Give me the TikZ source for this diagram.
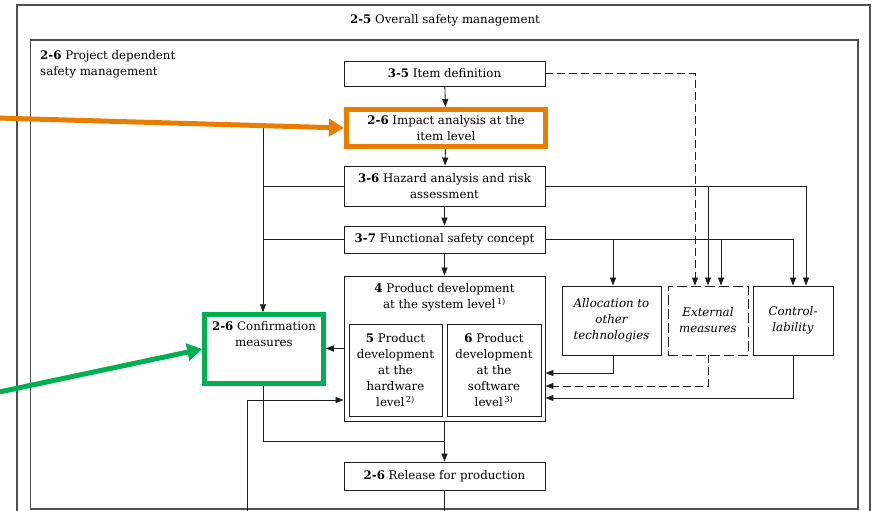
\documentclass[tikz,border=0pt]{standalone}
\usepackage{fontspec}
\setmainfont{DejaVu Serif}
\usetikzlibrary{arrows.meta}
\definecolor{ornge}{RGB}{232,125,0}
\definecolor{grn}{RGB}{0,176,80}
\definecolor{ln}{RGB}{30,30,30}
\definecolor{frm}{RGB}{80,80,80}
\begin{document}
\begin{tikzpicture}[x=1pt,y=-1pt,
  txt/.style={font=\fontsize{11.8}{16}\selectfont, align=center, inner sep=0pt},
  box/.style={txt, draw=ln, line width=0.9pt},
  itbox/.style={box, font=\fontsize{11.8}{16}\selectfont\itshape},
  frame/.style={draw=frm, line width=1.1pt},
  plain/.style={draw=ln, line width=0.85pt},
  conn/.style={plain, -{Triangle[length=8pt,width=6pt]}},
  dsh/.style={dash pattern=on 8pt off 4pt},
  bigarrow/.style={line width=5pt, -{Triangle[length=15pt,width=17pt]}}
]
\useasboundingbox (0,0) rectangle (873,511);
\clip (0,0) rectangle (873,511);
\fill[white] (0,0) rectangle (873,511);
% frames
\draw[frame] (17,5) rectangle (870,530);
\draw[frame] (30.5,40) rectangle (858,509);
\node[txt] (t25) at (445,20) {\textbf{2-5} Overall safety management};
\node[txt, anchor=north west, align=left] (t26) at (40,50) {\textbf{2-6} Project dependent\\safety management};
% main column
\node[box, minimum width=201pt, minimum height=25pt] (item) at (444.5,73.5) {\textbf{3-5} Item definition};
\node[box, draw=ornge, line width=5pt, minimum width=199pt, minimum height=37pt] (impact) at (446,128) {\textbf{2-6} Impact analysis at the\\item level};
\node[box, minimum width=201pt, minimum height=40pt] (hazard) at (444.5,186) {\textbf{3-6} Hazard analysis and risk\\assessment};
\node[box, minimum width=201pt, minimum height=27pt] (fsc) at (444.5,239.5) {\textbf{3-7} Functional safety concept};
\node[box, minimum width=201pt, minimum height=145pt] (pd) at (444.5,348.5) {};
\node[txt] (pdtxt) at (444.5,297.5) {\textbf{4} Product development\\at the system level\textsuperscript{\,1)}};
\node[box, minimum width=93pt, minimum height=92pt] (hw) at (395.5,370) {\textbf{5} Product\\development\\at the\\hardware\\level\textsuperscript{\,2)}};
\node[box, minimum width=94pt, minimum height=92pt] (sw) at (494,370) {\textbf{6} Product\\development\\at the\\software\\level\textsuperscript{\,3)}};
\node[box, minimum width=201pt, minimum height=28pt] (rel) at (444.5,476) {\textbf{2-6} Release for production};
% confirmation
\node[box, draw=grn, line width=4.5pt, minimum width=119pt, minimum height=69pt] (conf) at (264,349) {};
\node[txt] (conftxt) at (264,334.5) {\textbf{2-6} Confirmation\\measures};
% right boxes
\node[itbox, minimum width=99pt, minimum height=69pt] (alloc) at (611.5,320.5) {Allocation to\\other\\technologies};
\node[itbox, dash pattern=on 10pt off 4pt, minimum width=80pt, minimum height=69pt] (ext) at (708,320.5) {External\\measures};
\node[itbox, minimum width=80pt, minimum height=69pt] (ctrl) at (793,320.5) {Control-\\lability};
% helper coordinates
\coordinate (tl) at (263,125.5);
\coordinate (bl) at (247,520);
\coordinate (e1) at ([xshift=-13pt]ext.north);
\coordinate (e3) at ([xshift=13pt]ext.north);
\coordinate (c2) at ([xshift=13pt]ctrl.north);
\coordinate (a1) at ([xshift=1.5pt]alloc.north);
\coordinate (a1s) at ([xshift=1.5pt]alloc.south);
\coordinate (oa) at (-3,118);
\coordinate (ga) at (-3,392.5);
% main column arrows
\draw[conn] (item) -- (impact);
\draw[conn] (impact) -- (hazard);
\draw[conn] (hazard) -- (fsc);
\draw[conn] (fsc) -- (pd);
\draw[conn] (pd) -- (rel);
\draw[plain] (rel.south) -- (rel.south |- bl);
% left side
\draw[conn] (tl) -- (tl |- conf.north);
\draw[plain] (hazard.west) -- (hazard.west -| tl);
\draw[plain] (fsc.west) -- (fsc.west -| tl);
\draw[conn] (pd.west) -- (pd.west -| conf.east);
\draw[conn] (bl) |- (pd.west |- 0,400);
\draw[plain] (tl |- conf.south) |- (pd.south |- 0,441);
% right side
\draw[conn, dsh] (item.east) -| (e1);
\draw[conn] (hazard.east) -| (c2);
\draw[conn] (hazard.east -| ext.north) -- (ext.north);
\draw[conn] (fsc.east) -| (ctrl.north);
\draw[conn] (fsc.east -| a1) -- (a1);
\draw[conn] (fsc.east -| e3) -- (e3);
\draw[conn] (a1s) |- (pd.east |- 0,373);
\draw[conn, dsh] (ext.south) |- (pd.east |- 0,386);
\draw[conn] (ctrl.south) |- (pd.east |- 0,398);
% highlight arrows
\draw[ornge, bigarrow] (oa) -- (impact.west);
\draw[grn, bigarrow] (ga) -- (conf.west);
\end{tikzpicture}
\end{document}
